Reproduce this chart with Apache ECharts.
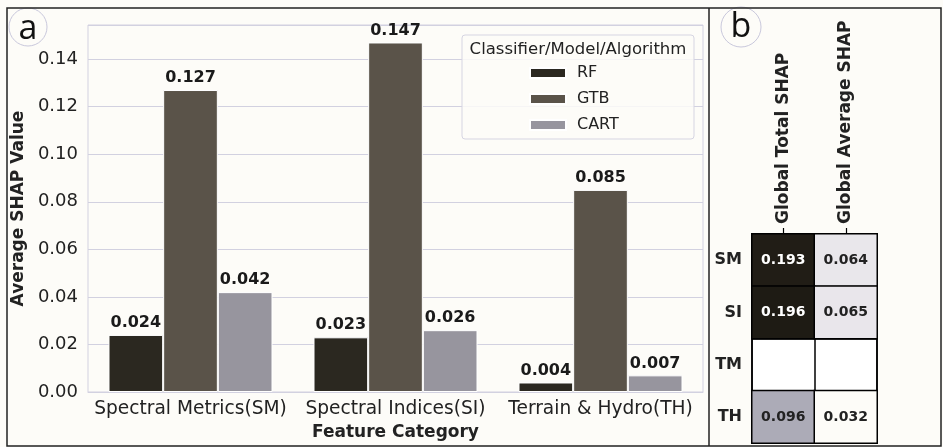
<!DOCTYPE html>
<html>
<head>
<meta charset="utf-8">
<script src="https://cdn.jsdelivr.net/npm/echarts@6/dist/echarts.min.js"></script>
<style>
  html, body { margin: 0; padding: 0; background: #fdfcf8; }
  #chart { width: 943px; height: 447px; }
</style>
</head>
<body>
<div id="chart"></div>
<script>
// Panel (a): average SHAP value per feature category and model
const categories = ['Spectral Metrics(SM)', 'Spectral Indices(SI)', 'Terrain & Hydro(TH)'];
const models = ['RF', 'GTB', 'CART'];
const rfValues = [0.024, 0.023, 0.004];
const gtbValues = [0.127, 0.147, 0.085];
const cartValues = [0.042, 0.026, 0.007];
const yTicks = [0, 0.02, 0.04, 0.06, 0.08, 0.10, 0.12, 0.14];

// Panel (b): global SHAP summary per feature group
const heatRows = ['SM', 'SI', 'TM', 'TH'];
const heatCols = ['Global Total SHAP', 'Global Average SHAP'];
const globalTotal = [0.193, 0.196, null, 0.096];
const globalAverage = [0.064, 0.065, null, 0.032];

const FONT = 'DejaVu Sans';
const GRIDLINE = '#d2d1e0';
const barColors = ['#2b2820', '#5a5349', '#97959e'];

const heatData = [];
heatRows.forEach((r, i) => {
  if (globalTotal[i] != null) heatData.push([0, i, globalTotal[i]]);
  if (globalAverage[i] != null) heatData.push([1, i, globalAverage[i]]);
});

const valueLabel = {
  show: true,
  position: 'top',
  distance: 4,
  fontFamily: FONT,
  fontWeight: 'bold',
  fontSize: 16,
  color: '#1a1a1a',
  formatter: p => p.value.toFixed(3)
};

function barSeries(name, data, color) {
  return {
    name: name,
    type: 'bar',
    xAxisIndex: 0,
    yAxisIndex: 0,
    data: data,
    barGap: '0%',
    barCategoryGap: '20%',
    itemStyle: { color: color, borderColor: '#ffffff', borderWidth: 1 },
    label: valueLabel,
    emphasis: { disabled: true }
  };
}

const chart = echarts.init(document.getElementById('chart'), null, { renderer: 'canvas' });

chart.setOption({
  backgroundColor: '#fdfcf8',
  animation: false,
  textStyle: { fontFamily: FONT },
  grid: [
    { left: 88, top: 25, right: 240, bottom: 55, show: true, borderColor: GRIDLINE, borderWidth: 1, backgroundColor: 'transparent' },
    { left: 752, top: 234, width: 125, height: 209, show: true, backgroundColor: '#ffffff', borderColor: '#000000', borderWidth: 1.5 }
  ],
  legend: {
    data: models,
    orient: 'vertical',
    left: 529,
    top: 65,
    padding: 0,
    itemWidth: 36,
    itemHeight: 10,
    itemGap: 10,
    icon: 'rect',
    textStyle: { fontFamily: FONT, fontSize: 16, color: '#222', padding: [0, 0, 0, 6] },
    selectedMode: false
  },
  xAxis: [
    {
      type: 'category',
      gridIndex: 0,
      data: categories,
      axisLine: { show: true, lineStyle: { color: GRIDLINE } },
      axisTick: { show: false },
      axisLabel: { interval: 0, hideOverlap: false, fontFamily: FONT, fontSize: 18.6, color: '#222', margin: 8 },
      name: 'Feature Category',
      nameLocation: 'middle',
      nameGap: 32,
      nameTextStyle: { fontFamily: FONT, fontSize: 17, fontWeight: 'bold', color: '#222' }
    },
    {
      type: 'category',
      gridIndex: 1,
      position: 'top',
      data: heatCols,
      axisLine: { show: false },
      axisTick: { show: true, alignWithLabel: true, length: 6, lineStyle: { color: '#000', width: 1.2 } },
      axisLabel: { rotate: -90, fontFamily: FONT, fontSize: 17, fontWeight: 'bold', color: '#222', margin: 10 },
      splitLine: { show: true, lineStyle: { color: '#000', width: 1.5 } }
    }
  ],
  yAxis: [
    {
      type: 'value',
      gridIndex: 0,
      min: 0,
      max: 0.15435,
      interval: 0.02,
      axisLine: { show: false },
      axisTick: { show: false },
      splitLine: { show: true, lineStyle: { color: GRIDLINE, width: 1 } },
      axisLabel: {
        fontFamily: FONT, fontSize: 18, color: '#222', margin: 10,
        showMaxLabel: false,
        formatter: v => (yTicks.some(t => Math.abs(t - v) < 1e-9) ? v.toFixed(2) : '')
      },
      name: 'Average SHAP Value',
      nameLocation: 'middle',
      nameRotate: 90,
      nameGap: 50,
      nameTextStyle: { fontFamily: FONT, fontSize: 17, fontWeight: 'bold', color: '#222' }
    },
    {
      type: 'category',
      gridIndex: 1,
      inverse: true,
      data: heatRows,
      axisLine: { show: false },
      axisTick: { show: false },
      axisLabel: { fontFamily: FONT, fontSize: 16, fontWeight: 'bold', color: '#222', margin: 10 },
      splitLine: { show: true, lineStyle: { color: '#000', width: 1.5 } }
    }
  ],
  visualMap: {
    show: false,
    type: 'continuous',
    seriesIndex: 3,
    dimension: 2,
    min: 0.032,
    max: 0.196,
    inRange: { color: ['#fdfcf8', '#e9e6eb', '#a9a8b4', '#6e6b6c', '#3a362e', '#1e1b14'] }
  },
  series: [
    barSeries('RF', rfValues, barColors[0]),
    barSeries('GTB', gtbValues, barColors[1]),
    barSeries('CART', cartValues, barColors[2]),
    {
      type: 'heatmap',
      xAxisIndex: 1,
      yAxisIndex: 1,
      data: heatData,
      itemStyle: { borderColor: '#000', borderWidth: 1.5 },
      emphasis: { disabled: true },
      label: {
        show: true,
        formatter: p => (p.value[2] > 0.15 ? '{w|' : '{d|') + p.value[2].toFixed(3) + '}',
        rich: {
          w: { color: '#ffffff', fontFamily: FONT, fontWeight: 'bold', fontSize: 14 },
          d: { color: '#222222', fontFamily: FONT, fontWeight: 'bold', fontSize: 14 }
        }
      }
    }
  ],
  graphic: [
    // outer frame and panel divider
    { type: 'rect', shape: { x: 7, y: 8, width: 934, height: 438 }, style: { fill: 'none', stroke: '#222', lineWidth: 1.5 }, silent: true, z: 100 },
    { type: 'line', shape: { x1: 709, y1: 8, x2: 709, y2: 446 }, style: { stroke: '#222', lineWidth: 1.5 }, silent: true, z: 100 },
    // legend box with title
    { type: 'rect', shape: { x: 462, y: 35, width: 232, height: 104, r: 3 }, style: { fill: 'rgba(253,252,248,0.85)', stroke: '#d6d5e2', lineWidth: 1 }, silent: true, z: 1 },
    { type: 'text', x: 578, y: 50, style: { text: 'Classifier/Model/Algorithm', font: '16.5px "DejaVu Sans"', fill: '#222', align: 'center', verticalAlign: 'middle' }, silent: true, z: 2 },
    // panel letters
    { type: 'circle', shape: { cx: 28, cy: 27, r: 19 }, style: { fill: 'none', stroke: '#c9c8dc', lineWidth: 1 }, silent: true, z: 99 },
    { type: 'text', x: 28, y: 29, style: { text: 'a', font: '34px "Open Sans"', fill: '#111', align: 'center', verticalAlign: 'middle' }, silent: true, z: 99 },
    { type: 'circle', shape: { cx: 741, cy: 27, r: 20 }, style: { fill: 'none', stroke: '#c9c8dc', lineWidth: 1 }, silent: true, z: 99 },
    { type: 'text', x: 741, y: 27, style: { text: 'b', font: '34px "Open Sans"', fill: '#111', align: 'center', verticalAlign: 'middle' }, silent: true, z: 99 }
  ]
});
</script>
</body>
</html>
